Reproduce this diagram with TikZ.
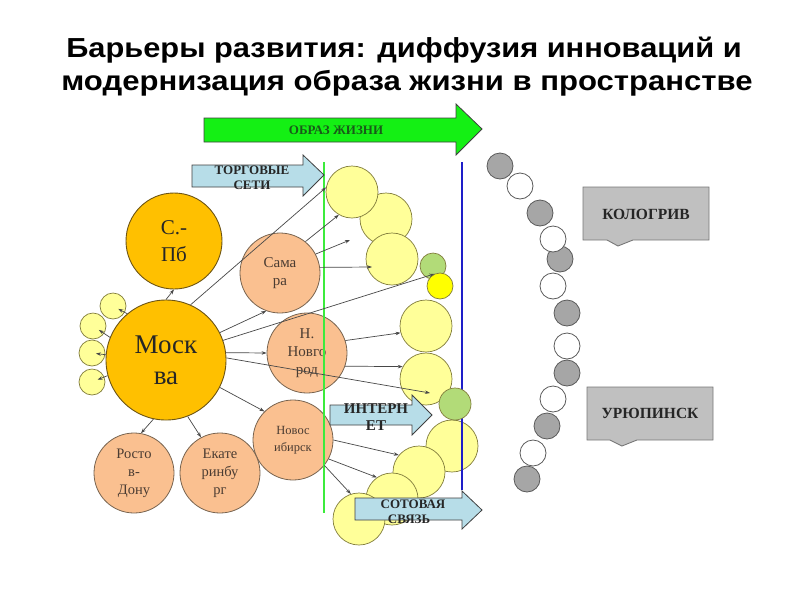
\documentclass[tikz,border=0pt]{standalone}
\usepackage{fontspec}
\usepackage{graphicx}
\setmainfont{Liberation Serif}
\newfontfamily\titlefont{Liberation Sans}
\usetikzlibrary{arrows.meta}
\definecolor{gold}{RGB}{255,192,0}
\definecolor{goldline}{RGB}{110,85,20}
\definecolor{peach}{RGB}{250,192,144}
\definecolor{peachline}{RGB}{120,100,80}
\definecolor{peachtext}{RGB}{75,60,50}
\definecolor{ylight}{RGB}{255,255,153}
\definecolor{yline}{RGB}{130,125,60}
\definecolor{ybright}{RGB}{255,255,0}
\definecolor{gsoft}{RGB}{178,219,120}
\definecolor{arrgreen}{RGB}{20,240,20}
\definecolor{arrgreentext}{RGB}{25,90,25}
\definecolor{lblue}{RGB}{183,221,232}
\definecolor{vgreen}{RGB}{60,235,60}
\definecolor{vblue}{RGB}{30,30,200}
\definecolor{grayfill}{RGB}{166,166,166}
\definecolor{grayline}{RGB}{90,90,90}
\definecolor{calloutfill}{RGB}{192,192,192}
\definecolor{calloutline}{RGB}{120,120,120}
\begin{document}
\begin{tikzpicture}[x=1pt,y=-1pt,
  bigc/.style={circle, draw=goldline, fill=gold, line width=0.9pt, inner sep=0pt, align=center, text=black!85},
  city/.style={circle, draw=peachline, fill=peach, line width=0.8pt, inner sep=0pt, minimum size=80pt, align=center, text=peachtext, font=\fontsize{15}{18}\selectfont},
  yc/.style={circle, draw=yline, fill=ylight, line width=0.7pt, inner sep=0pt, minimum size=52pt},
  sc/.style={yc, minimum size=26pt},
  gc/.style={circle, draw=yline, fill=gsoft, line width=0.7pt, inner sep=0pt, minimum size=#1},
  ybc/.style={circle, draw=yline, fill=ybright, line width=0.7pt, inner sep=0pt, minimum size=26pt},
  grc/.style={circle, draw=grayline, fill=grayfill, line width=0.8pt, inner sep=0pt, minimum size=26pt},
  whc/.style={circle, draw=grayline, fill=white, line width=0.8pt, inner sep=0pt, minimum size=26pt},
  arr/.style={draw=black!72, line width=0.7pt, -{Stealth[length=5pt,width=3.5pt]}},
  blockarr/.style={draw=black!75, line width=0.8pt, fill=lblue},
  arrtext/.style={font=\bfseries\fontsize{13}{15}\selectfont, text=black!85, anchor=base, inner sep=0pt},
  callout/.style={draw=calloutline, line width=0.9pt, fill=calloutfill},
  callouttext/.style={font=\bfseries\fontsize{15.5}{17}\selectfont, text=black!85, inner sep=0pt},
  titletext/.style={anchor=base, inner sep=0pt, font=\titlefont\bfseries\fontsize{27.5}{30}\selectfont}
]
\useasboundingbox (0,0) rectangle (800,600);
\fill[white] (0,0) rectangle (800,600);

% title
\node[titletext] (title1) at (404,57) {\scalebox{1.12}[1]{Барьеры развития: диффузия инноваций и}};
\node[titletext] (title2) at (407,90) {\scalebox{1.13}[1]{модернизация образа жизни в пространстве}};

% green big arrow
\draw[draw=black!75, line width=0.8pt, fill=arrgreen] (204,118) -- (456,118) -- (456,104) -- (482,129) -- (456,155) -- (456,142) -- (204,142) -- cycle;
\node[font=\bfseries\fontsize{13}{15}\selectfont, text=arrgreentext, anchor=base, inner sep=0pt] (obraz) at (336,134) {ОБРАЗ ЖИЗНИ};

% gray circles (right arc)
\node[grc] (g1) at (500,166) {};
\node[whc] (g2) at (520,186) {};
\node[grc] (g3) at (540,213) {};
\node[grc] (g5) at (560,259) {};
\node[whc] (g4) at (553,239) {};
\node[whc] (g6) at (553,286) {};
\node[grc] (g7) at (567,313) {};
\node[whc] (g8) at (567,346) {};
\node[grc] (g9) at (567,373) {};
\node[whc] (g10) at (553,399) {};
\node[grc] (g11) at (547,426) {};
\node[whc] (g12) at (533,453) {};
\node[grc] (g13) at (527,479) {};

% callouts
\draw[callout] (583,187) -- (709,187) -- (709,240) -- (633,240) -- (618,246) -- (607,240) -- (583,240) -- cycle;
\node[callouttext] (kologriv) at (646,214) {КОЛОГРИВ};
\draw[callout] (587,387) -- (713,387) -- (713,440) -- (637,440) -- (622,446) -- (610,440) -- (587,440) -- cycle;
\node[callouttext] (uryupinsk) at (650,413) {УРЮПИНСК};

% yellow circles
\node[yc] (y2) at (386,219) {};
\node[yc] (y1) at (352,192) {};
\node[yc] (y3) at (392,259) {};
\node[gc=26pt] (gs1) at (433,266) {};
\node[ybc] (yb) at (440,286) {};
\node[yc] (y4) at (426,326) {};
\node[yc] (y5) at (426,379) {};
\node[yc] (y6) at (452,446) {};
\node[yc] (y7) at (419,472) {};
\node[yc] (y8) at (392,499) {};
\node[yc] (y9) at (359,519) {};

% blue vertical line
\coordinate (bt) at (462,162);
\coordinate (bb) at (462,490);
\draw[vblue, line width=1.5pt] (bt) -- (bb);
\node[gc=32pt] (gs2) at (455,404) {};

% small yellow circles near Moscow
\node[sc] (s1) at (113,306) {};
\node[sc] (s2) at (93,326) {};
\node[sc] (s3) at (92,353) {};
\node[sc] (s4) at (92,382) {};

% big cities
\node[bigc, minimum size=120pt, font=\fontsize{27}{31}\selectfont] (msk) at (166,360) {Моск\\ва};
\node[bigc, minimum size=96pt, font=\fontsize{21}{27}\selectfont] (spb) at (174,241) {С.-\\Пб};

% peach cities
\node[city] (sam) at (280,273) {Сама\\ра};
\node[city] (nn) at (307,353) {Н.\\Новго\\род};
\node[city, font=\fontsize{12.5}{17}\selectfont] (nsb) at (293,440) {Новос\\ибирск};
\node[city, font=\fontsize{14.5}{18}\selectfont] (rost) at (134,473) {Росто\\в-\\Дону};
\node[city, font=\fontsize{14.5}{18}\selectfont] (ekat) at (220,473) {Екате\\ринбу\\рг};

% green vertical line
\coordinate (gt) at (324,162);
\coordinate (gb) at (324,513);
\draw[vgreen, line width=1.6pt] (gt) -- (gb);

% free arrow ends
\coordinate (f1) at (350,240);
\coordinate (f2) at (372,267);
\coordinate (f3) at (430,393);

% arrows from Moscow
\draw[arr] (msk.north) -- (spb.south);
\draw[arr] (msk.66) -- (y1.170);
\draw[arr] (msk.27) -- (sam.250);
\draw[arr] (msk.19) -- (yb.115);
\draw[arr] (msk.7) -- (nn.west);
\draw[arr] (msk.2) -- (f3);
\draw[arr] (msk.-27) -- (nsb.135);
\draw[arr] (msk.-102) -- (rost.80);
\draw[arr] (msk.-69) -- (ekat.118);
\draw[arr, shorten >=6pt] (msk.130) -- (s1.center);
\draw[arr, shorten >=7pt] (msk.158) -- (s2.center);
\draw[arr, shorten >=4pt] (msk.175) -- (s3.center);
\draw[arr, shorten >=6pt] (msk.195) -- (s4.center);

% arrows from Samara
\draw[arr] (sam.51) -- (y1.-120);
\draw[arr] (sam.28) -- (f1);
\draw[arr] (sam.8) -- (f2);

% arrows from N. Novgorod
\draw[arr] (nn.18) -- (y4.195);
\draw[arr] (nn.-19) -- (y5.152);

% arrows from Novosibirsk
\draw[arr] (nsb.0) -- (y7.140);
\draw[arr] (nsb.-28) -- (y8.125);
\draw[arr] (nsb.-39) -- (y9.108);

% blue block arrows
\draw[blockarr] (192,165) -- (303,165) -- (303,155) -- (324,175) -- (303,196) -- (303,187) -- (192,187) -- cycle;
\node[arrtext] (torg1) at (252,174) {ТОРГОВЫЕ};
\node[arrtext] (torg2) at (252,189) {СЕТИ};

\draw[blockarr] (330,405) -- (412,405) -- (412,395) -- (432,415) -- (412,435) -- (412,425) -- (330,425) -- cycle;
\node[arrtext, font=\bfseries\fontsize{15}{17}\selectfont] (int1) at (376,413) {ИНТЕРН};
\node[arrtext, font=\bfseries\fontsize{15}{17}\selectfont] (int2) at (376,430) {ЕТ};

\draw[blockarr] (355,498) -- (462,498) -- (462,491) -- (482,510) -- (462,529) -- (462,520) -- (355,520) -- cycle;
\node[arrtext] (sot1) at (413,508) {СОТОВАЯ};
\node[arrtext] (sot2) at (409,523) {СВЯЗЬ};
\end{tikzpicture}
\end{document}
